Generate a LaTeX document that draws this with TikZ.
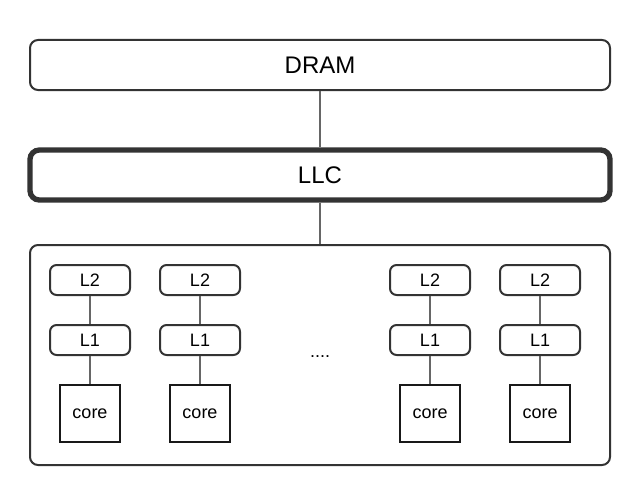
\documentclass[tikz,border=0pt]{standalone}
\usepackage{fontspec}
\setmainfont{Liberation Sans}
\begin{document}
\begin{tikzpicture}[x=0.75pt,y=-0.75pt,
  bigbox/.style={draw=black!80,line width=1.5pt,rounded corners=6pt,fill=white},
  cache/.style={draw=black!80,line width=1.5pt,rounded corners=5pt,minimum width=60pt,minimum height=22.5pt,inner sep=0pt,font=\fontsize{13.5}{16}\selectfont},
  corebox/.style={draw=black!90,line width=1.5pt,minimum width=45pt,minimum height=43pt,inner sep=0pt,font=\fontsize{13.5}{16}\selectfont},
  link/.style={draw=black!60,line width=0.9pt}]
\useasboundingbox (0,0) rectangle (630,485);
\node[bigbox,minimum width=435pt,minimum height=37.5pt,inner sep=0pt,font=\fontsize{18}{21}\selectfont] (dram) at (320,65) {DRAM};
\node[bigbox,line width=4pt,rounded corners=7pt,minimum width=435pt,minimum height=37.5pt,inner sep=0pt,font=\fontsize{18}{21}\selectfont] (llc) at (320,175) {LLC};
\node[bigbox,minimum width=435pt,minimum height=165pt,inner sep=0pt] (grp) at (320,355) {};
\draw[link] (dram.south) -- (llc.north);
\draw[link] (llc.south) -- (grp.north);
\foreach \i/\x in {a/90,b/200,c/430,d/540}{
  \node[cache] (l2\i) at (\x,280) {L2};
  \node[cache] (l1\i) at (\x,340) {L1};
  \node[corebox] (core\i) at (\x,413.5) {core};
  \draw[link] (l2\i) -- (l1\i);
  \draw[link] (l1\i) -- (core\i);
}
\node[font=\fontsize{13.5}{16}\selectfont] (dots) at (320,357) {....};
\end{tikzpicture}
\end{document}
